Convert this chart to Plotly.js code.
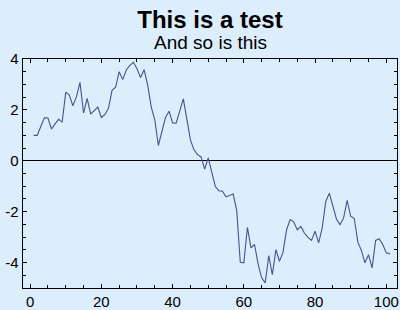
<!DOCTYPE html>
<html>
<head>
<meta charset="utf-8">
<script src="https://cdn.plot.ly/plotly-3.0.1.min.js"></script>
<style>
  html, body { margin: 0; padding: 0; background: #dcedfc; }
  #chart { width: 400px; height: 310px; }
</style>
</head>
<body>
<div id="chart"></div>
<script>
const titleText = "This is a test";
const subtitleText = "And so is this";

const xValues = [
  1, 2, 3, 4, 5, 6, 7, 8, 9, 10,
  11, 12, 13, 14, 15, 16, 17, 18, 19, 20,
  21, 22, 23, 24, 25, 26, 27, 28, 29, 30,
  31, 32, 33, 34, 35, 36, 37, 38, 39, 40,
  41, 42, 43, 44, 45, 46, 47, 48, 49, 50,
  51, 52, 53, 54, 55, 56, 57, 58, 59, 60,
  61, 62, 63, 64, 65, 66, 67, 68, 69, 70,
  71, 72, 73, 74, 75, 76, 77, 78, 79, 80,
  81, 82, 83, 84, 85, 86, 87, 88, 89, 90,
  91, 92, 93, 94, 95, 96, 97, 98, 99, 100,
  101
];

const yValues = [
  1.00, 1.00, 1.35, 1.69, 1.68, 1.25, 1.45, 1.63, 1.52, 2.70,
  2.58, 2.16, 2.51, 3.08, 1.88, 2.45, 1.83, 1.96, 2.11, 1.70,
  1.82, 2.06, 2.77, 2.89, 3.50, 3.19, 3.57, 3.75, 3.87, 3.62,
  3.27, 3.58, 2.98, 2.11, 1.61, 0.60, 1.13, 1.70, 1.95, 1.49,
  1.48, 1.94, 2.43, 1.64, 0.82, 0.43, 0.24, 0.15, -0.33, 0.11,
  -0.42, -1.01, -1.18, -1.20, -1.42, -1.35, -1.31, -1.95, -3.99, -4.01,
  -2.62, -3.42, -3.29, -4.05, -4.60, -4.80, -3.73, -4.48, -3.49, -3.95,
  -3.60, -2.71, -2.31, -2.40, -2.71, -2.58, -2.84, -3.01, -3.13, -2.77,
  -3.23, -2.64, -1.60, -1.27, -1.79, -2.29, -2.51, -2.25, -1.56, -2.18,
  -2.27, -3.20, -3.52, -4.01, -3.69, -4.21, -3.13, -3.06, -3.29, -3.62,
  -3.66
];

const xTickVals = [0, 20, 40, 60, 80, 100];
const xTickText = ["0", "20", "40", "60", "80", "100"];
const yTickVals = [-4, -2, 0, 2, 4];
const yTickText = ["-4", "-2", "0", "2", "4"];

const bg = "#dcedfc";
const fontFamily = "Liberation Sans, Arial, sans-serif";

const trace = {
  x: xValues,
  y: yValues,
  type: "scatter",
  mode: "lines",
  line: { color: "#47538a", width: 1.1 },
  hoverinfo: "skip",
  showlegend: false
};

const layout = {
  width: 400,
  height: 310,
  paper_bgcolor: bg,
  plot_bgcolor: bg,
  margin: { l: 23, r: 3, t: 59, b: 22, pad: 0 },
  font: { family: fontFamily, color: "#000", size: 15 },
  title: {
    text: "<b>" + titleText + "</b>",
    font: { family: fontFamily, size: 24, color: "#000" },
    x: 0.5, xref: "paper", xanchor: "center",
    y: 0.937, yref: "container", yanchor: "middle"
  },
  annotations: [{
    text: subtitleText,
    xref: "paper", yref: "paper",
    x: 0.5, y: 1.07, xanchor: "center", yanchor: "middle",
    showarrow: false,
    font: { family: fontFamily, size: 19, color: "#000" }
  }],
  xaxis: {
    range: [-2, 103],
    showgrid: false,
    zeroline: false,
    showline: true, linecolor: "#000", linewidth: 1.3,
    mirror: "ticks",
    ticks: "inside", ticklen: 4, tickcolor: "#000", tickwidth: 1,
    tickmode: "array", tickvals: xTickVals, ticktext: xTickText,
    tickfont: { size: 15, family: fontFamily, color: "#000" },
    minor: { dtick: 5, tick0: 0, ticks: "inside", ticklen: 3, tickcolor: "#000", showgrid: false }
  },
  yaxis: {
    range: [-5, 4],
    showgrid: false,
    zeroline: true, zerolinecolor: "#000", zerolinewidth: 1,
    showline: true, linecolor: "#000", linewidth: 1.3,
    mirror: "ticks",
    ticks: "inside", ticklen: 4, tickcolor: "#000", tickwidth: 1,
    tickmode: "array", tickvals: yTickVals, ticktext: yTickText,
    tickfont: { size: 15, family: fontFamily, color: "#000" },
    minor: { dtick: 0.5, tick0: 0, ticks: "inside", ticklen: 3, tickcolor: "#000", showgrid: false }
  },
  xaxis2: {
    overlaying: "x", matches: "x", anchor: "y", side: "bottom",
    showgrid: false, zeroline: false, showline: false,
    ticks: "outside", ticklen: 3, tickcolor: "#000",
    tickmode: "array", tickvals: xTickVals, showticklabels: false
  },
  yaxis2: {
    overlaying: "y", matches: "y", anchor: "x", side: "left",
    showgrid: false, zeroline: false, showline: false,
    ticks: "outside", ticklen: 3, tickcolor: "#000",
    tickmode: "array", tickvals: yTickVals, showticklabels: false
  }
};

Plotly.newPlot("chart", [trace], layout, { staticPlot: true, displayModeBar: false });
</script>
</body>
</html>
